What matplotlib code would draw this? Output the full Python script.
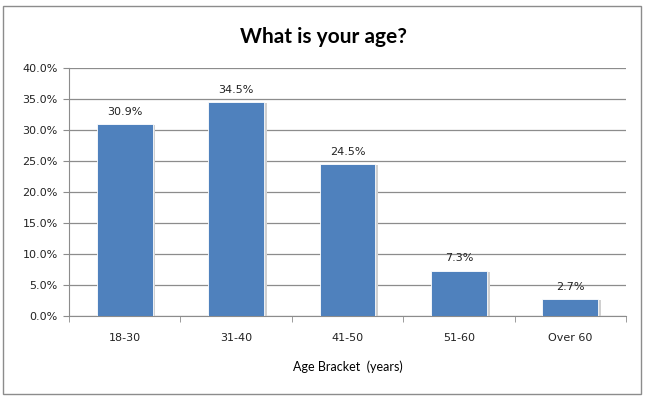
import matplotlib
matplotlib.use("Agg")
import matplotlib.pyplot as plt
from matplotlib.patches import Rectangle

# Survey data
categories = ["18-30", "31-40", "41-50", "51-60", "Over 60"]
shares = [30.9, 34.5, 24.5, 7.3, 2.7]
y_ticks = [0, 5, 10, 15, 20, 25, 30, 35, 40]

fig = plt.figure(figsize=(6.46, 4.0), dpi=100)
ax = fig.add_axes([69 / 646, 1 - 316 / 400, 557 / 646, 248 / 400])

# Outer chart border
fig.patches.append(Rectangle((3 / 646, 6 / 400), 638 / 646, 388 / 400, transform=fig.transFigure,
                             fill=False, edgecolor="#8c8c8c", linewidth=1.0))

x = list(range(len(categories)))
# soft shadow then bar
ax.bar([i + 0.025 for i in x], shares, width=0.5, color="#d0d0d0", zorder=2, bottom=-0.15)
bars = ax.bar(x, shares, width=0.5, color="#4f81bd", edgecolor="#ffffff", linewidth=0.6, zorder=3)

for i, v in enumerate(shares):
    ax.text(i, v + 1.2, f"{v:.1f}%", ha="center", va="bottom", fontsize=8,
            family="DejaVu Sans", color="#222222")

ax.set_xlim(-0.5, len(categories) - 0.5)
ax.set_ylim(0, 40)
ax.set_yticks(y_ticks)
ax.set_yticklabels([f"{t:.1f}%" for t in y_ticks], fontsize=8, color="#222222", family="DejaVu Sans")
ax.yaxis.grid(True, color="#8c8c8c", linewidth=0.9, zorder=0)
ax.set_axisbelow(True)

ax.set_xticks(x)
ax.set_xticklabels(categories, fontsize=8, color="#222222", family="DejaVu Sans")
ax.tick_params(axis="x", length=0, pad=12)
ax.set_xticks([i - 0.5 for i in range(len(categories) + 1)], minor=True)
ax.tick_params(axis="x", which="minor", length=4, color="#8c8c8c")
ax.tick_params(axis="y", length=4, color="#8c8c8c", pad=4)

for side in ["top", "right"]:
    ax.spines[side].set_visible(False)
ax.spines["left"].set_color("#8c8c8c")
ax.spines["bottom"].set_color("#8c8c8c")

ax.set_xlabel("Age Bracket  (years)", fontsize=9, family="Lato", labelpad=13)
fig.text(0.5, 1 - 37 / 400, "What is your age?", ha="center", va="center",
         fontsize=15, fontweight="bold", family="Lato")

fig.savefig("out.png", dpi=100)
